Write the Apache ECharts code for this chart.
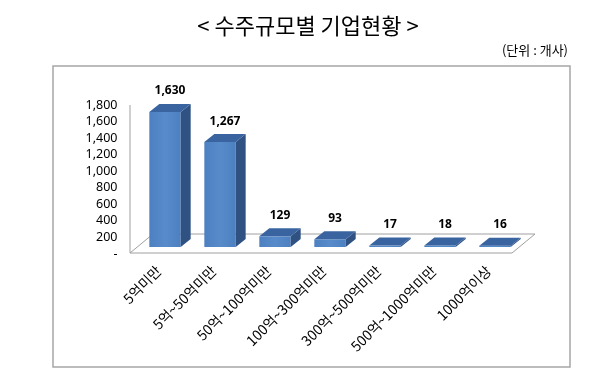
<!DOCTYPE html>
<html>
<head>
<meta charset="utf-8">
<script src="https://cdn.jsdelivr.net/npm/echarts@6/dist/echarts.min.js"></script>
<style>html,body{margin:0;padding:0;background:#fff}#c{width:600px;height:386px}</style>
</head>
<body>
<div id="c"></div>
<script>
const titleText = '< 수주규모별 기업현황 >';
const unitText = '(단위 : 개사)';
const categories = ['5억미만', '5억~50억미만', '50억~100억미만', '100억~300억미만', '300억~500억미만', '500억~1000억미만', '1000억이상'];
const values = [1630, 1267, 129, 93, 17, 18, 16];
const yMin = 0, yMax = 1800, yStep = 200;

const chart = echarts.init(document.getElementById('c'), null, {renderer: 'canvas'});
const numFont = '"Noto Sans", "Liberation Sans", sans-serif';
const krFont = '"Noto Sans CJK KR", "Noto Sans", sans-serif';

const DX = 10, DY = -8, LIFT = 7;

function renderBar(params, api) {
  const i = api.value(0), v = api.value(1);
  const base = api.coord([i, 0]);
  const top = api.coord([i, v]);
  const w = api.size([1, 0])[0] * 0.57;
  const c = base[0];
  const x0 = c - w / 2, x1 = c + w / 2;
  const yb = base[1] - LIFT, yt = top[1] - LIFT;
  return {
    type: 'group',
    children: [
      {type: 'rect', shape: {x: x0, y: yt, width: w, height: yb - yt},
       style: {fill: new echarts.graphic.LinearGradient(0, 0, 1, 0, [{offset: 0, color: '#4d80c0'}, {offset: 0.5, color: '#578bca'}, {offset: 1, color: '#4d80c0'}])}},
      {type: 'polygon', shape: {points: [[x1, yb], [x1 + DX, yb + DY], [x1 + DX, yt + DY], [x1, yt]]},
       style: {fill: '#2f5283'}},
      {type: 'polygon', shape: {points: [[x0, yt], [x1, yt], [x1 + DX, yt + DY], [x0 + DX, yt + DY]]},
       style: {fill: '#3a64a0'}},
      {type: 'text', x: c + DX / 2, y: yt + DY - 7,
       style: {text: v.toLocaleString('en-US'), fill: '#000', font: 'bold 12px ' + numFont, align: 'center', verticalAlign: 'bottom'}}
    ]
  };
}

function renderFloor(params, api) {
  const cs = params.coordSys;
  const gx = cs.x, gr = cs.x + cs.width, gb = cs.y + cs.height, gt = cs.y;
  return {
    type: 'group',
    children: [
      {type: 'polygon', shape: {points: [[gx - 7.5, gb - 1], [gr - 10.5, gb - 1], [gr + 12.5, gb - 20], [gx + 15.5, gb - 20]]},
       style: {fill: '#fff', stroke: '#a0a0a0', lineWidth: 1}},
      {type: 'line', shape: {x1: gx - 7.5, y1: gt, x2: gx - 7.5, y2: gb - 1},
       style: {stroke: '#a0a0a0', lineWidth: 1}}
    ]
  };
}

chart.setOption({
  animation: false,
  backgroundColor: '#fff',
  graphic: [
    {type: 'rect', shape: {x: 53, y: 66, width: 517, height: 301}, style: {fill: 'none', stroke: '#a6a6a6', lineWidth: 1.5}, z: -10},
    {type: 'text', x: 308, y: 26, style: {text: titleText, font: '22px ' + krFont, fill: '#000', align: 'center', verticalAlign: 'middle'}},
    {type: 'text', x: 568, y: 50, style: {text: unitText, font: '13px ' + krFont, fill: '#000', align: 'right', verticalAlign: 'middle'}}
  ],
  grid: {left: 137.5, right: 77.5, top: 105, bottom: 132, containLabel: false},
  xAxis: {
    type: 'category', data: categories,
    axisLine: {show: false}, axisTick: {show: false},
    axisLabel: {rotate: 45, margin: 8, interval: 0, fontSize: 14, color: '#000', fontFamily: krFont,
      padding: [0, 9, 0, 0]}
  },
  yAxis: {
    type: 'value', min: yMin, max: yMax, interval: yStep,
    axisLine: {show: false}, axisTick: {show: false}, splitLine: {show: false},
    axisLabel: {margin: 20, fontSize: 12.5, color: '#000', fontFamily: numFont,
      formatter: v => v === 0 ? '-' : v.toLocaleString('en-US')}
  },
  series: [
    {type: 'custom', renderItem: renderFloor, data: [[0, 0]], z: 1, silent: true},
    {type: 'custom', renderItem: renderBar, data: values.map((v, i) => [i, v]), z: 2,
     encode: {x: 0, y: 1}}
  ]
});
</script>
</body>
</html>
